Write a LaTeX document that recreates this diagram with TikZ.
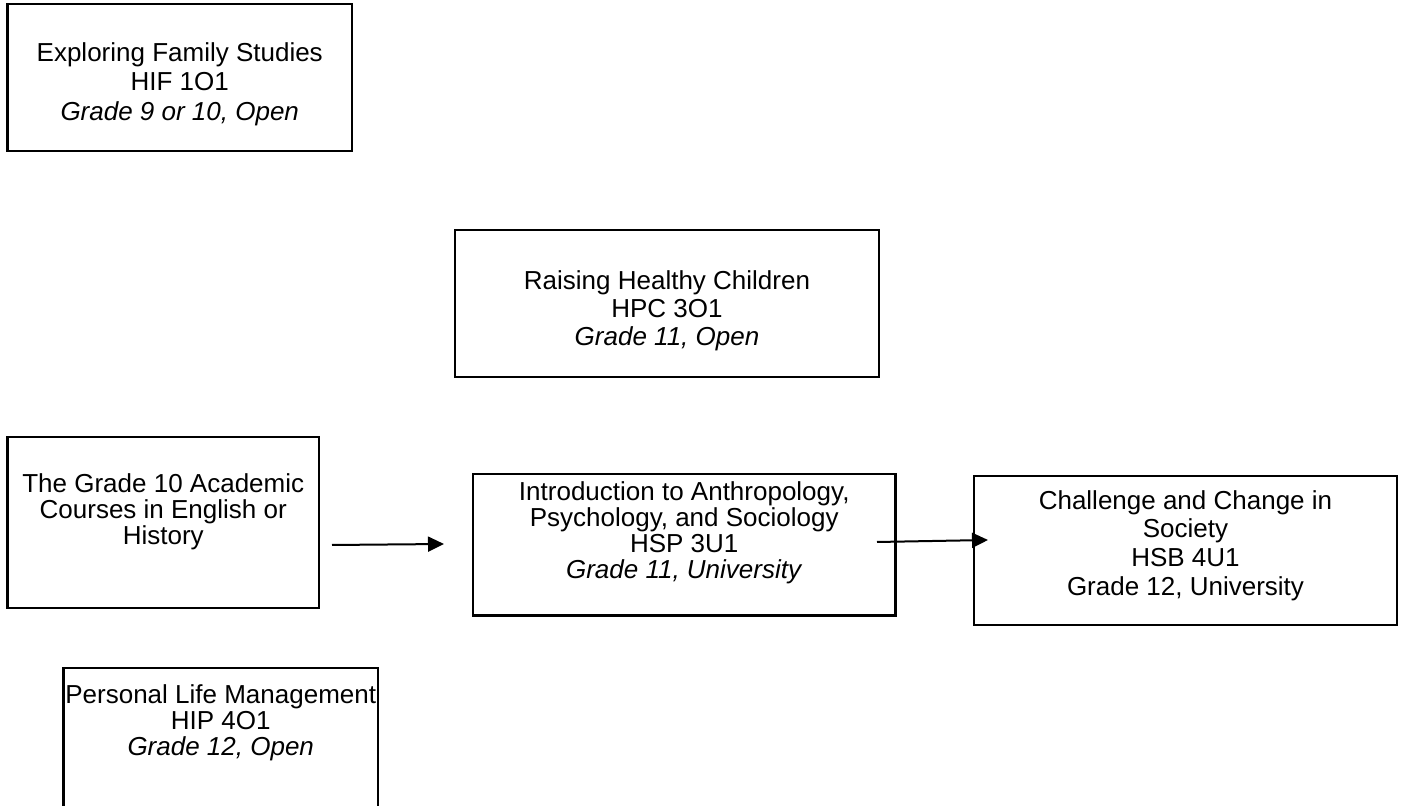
\documentclass[tikz,border=0pt]{standalone}
\usepackage{fontspec}
\setmainfont{Liberation Sans}
\usetikzlibrary{arrows.meta}
\begin{document}
\begin{tikzpicture}[x=0.5pt,y=-0.5pt,
  box/.style={draw=black, line width=1.3pt, rectangle, inner sep=0pt, outer sep=0pt},
  thinbox/.style={box, line width=0.9pt},
  boxtext/.style={anchor=north, align=center, inner sep=0pt, font=\fontsize{13}{14}\selectfont},
  flow/.style={line width=1pt, -{Triangle[length=8pt,width=7.5pt]}}]
\useasboundingbox[fill=white] (0,0) rectangle (1404,806);

% course boxes
\node[box, minimum width=172.25pt, minimum height=73.5pt] (fam) at (179.75,77.5) {};
\node[box, minimum width=212pt, minimum height=73.5pt] (hpc) at (667,303.5) {};
\node[box, minimum width=155.75pt, minimum height=85.5pt] (gr10) at (163.25,522.5) {};
\node[box, minimum width=211.25pt, minimum height=70.75pt] (hsp) at (684.25,544.75) {};
\node[thinbox, minimum width=211.5pt, minimum height=74.5pt] (hsb) at (1185.5,550.5) {};
\node[box, minimum width=157.25pt, minimum height=91pt] (hip) at (220.75,759) {};

% course titles
\node[boxtext, font=\fontsize{13}{14.75}\selectfont] (famtxt) at (179.75,41)
  {\rule{0pt}{10pt}Exploring Family Studies\\HIF 1O1\\\textit{Grade 9 or 10, Open}};
\node[boxtext] (hpctxt) at (667,269)
  {\rule{0pt}{10pt}Raising Healthy Children\\HPC 3O1\\\textit{Grade 11, Open}};
\node[boxtext, font=\fontsize{13}{13}\selectfont] (gr10txt) at (163.25,472)
  {\rule{0pt}{10pt}The Grade 10 Academic\\Courses in English or\\History};
\node[boxtext, font=\fontsize{13}{13}\selectfont] (hsptxt) at (684.25,480)
  {\rule{0pt}{10pt}Introduction to Anthropology,\\Psychology, and Sociology\\HSP 3U1\\\textit{Grade 11, University}};
\node[boxtext, font=\fontsize{13}{14.3}\selectfont] (hsbtxt) at (1185.5,489)
  {\rule{0pt}{10pt}Challenge and Change in\\Society\\HSB 4U1\\Grade 12, University};
\node[boxtext, font=\fontsize{13}{13}\selectfont] (hiptxt) at (220.75,683)
  {\rule{0pt}{10pt}Personal Life Management\\HIP 4O1\\\textit{Grade 12, Open}};

% connectors
\coordinate (a1s) at (332,545);
\coordinate (a1e) at (444,544);
\coordinate (a2s) at (877,542);
\coordinate (a2e) at (988,540);
\draw[flow] (a1s) -- (a1e);
\draw[flow] (a2s) -- (a2e);
\end{tikzpicture}
\end{document}
